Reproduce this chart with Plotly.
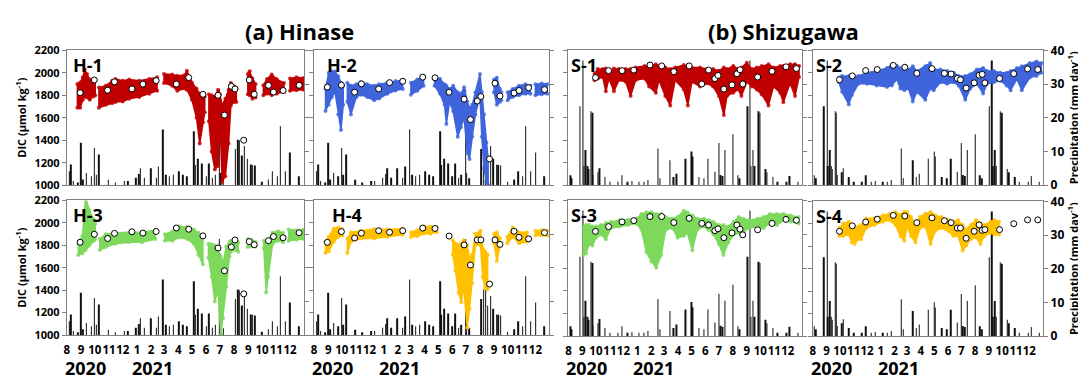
import plotly.graph_objects as go

# target picture is 1086x387; the page body adds an 8px margin, so the figure is drawn
# 8px smaller and every pixel position below is given in picture coordinates.
PIC_W, PIC_H, OFF = 1086, 387, 8
FW, FH = PIC_W - OFF, PIC_H - OFF
X_RANGE = ['2020-08-01', '2022-01-01']


def fx(px):
    return (px - OFF) / FW


def fy(py):
    return 1 - (py - OFF) / FH


# ---------------- axis labels ----------------
month_tick_dates = ['2020-08-01', '2020-09-01', '2020-10-01', '2020-11-01', '2020-12-01',
                    '2021-01-01', '2021-02-01', '2021-03-01', '2021-04-01', '2021-05-01',
                    '2021-06-01', '2021-07-01', '2021-08-01', '2021-09-01', '2021-10-01',
                    '2021-11-01', '2021-12-01']
month_tick_labels = ['8', '9', '10', '11', '12', '1', '2', '3', '4', '5', '6', '7', '8', '9',
                     '10', '11', '12']
year_labels = ['2020', '2021']

# ---------------- precipitation (mm/day) ----------------
hinase_rain_dates = ['2020-08-06', '2020-08-10', '2020-08-15', '2020-08-25', '2020-09-01',
                     '2020-09-05', '2020-09-13', '2020-09-23', '2020-09-30', '2020-10-04',
                     '2020-10-10', '2020-10-30', '2020-11-15', '2020-12-04', '2020-12-12',
                     '2020-12-30', '2021-01-05', '2021-01-09', '2021-01-17', '2021-01-31',
                     '2021-02-12', '2021-02-17', '2021-02-27', '2021-03-05', '2021-03-13',
                     '2021-03-21', '2021-04-02', '2021-04-11', '2021-04-20', '2021-05-05',
                     '2021-05-08', '2021-05-14', '2021-05-23', '2021-06-01', '2021-06-07',
                     '2021-06-15', '2021-06-21', '2021-06-30', '2021-07-03', '2021-07-08',
                     '2021-08-04', '2021-08-09', '2021-08-13', '2021-08-18', '2021-08-24',
                     '2021-08-30', '2021-09-07', '2021-09-10', '2021-09-15', '2021-10-01',
                     '2021-10-15', '2021-10-24', '2021-11-03', '2021-11-10', '2021-11-21',
                     '2021-12-01', '2021-12-20']
hinase_rain = [4.1, 6.1, 1.2, 0.8, 12.6,
               1.7, 3.6, 2.6, 11.0, 3.1,
               9.1, 1.6, 0.8, 1.2, 1.2,
               2.2, 3.3, 5.0, 2.2, 5.0,
               2.2, 5.5, 16.5, 3.1, 2.6,
               3.1, 4.1, 3.1, 2.6, 16.0,
               6.0, 7.8, 6.4, 2.6, 6.4,
               2.2, 3.1, 28.5, 3.6, 2.0,
               10.7, 13.5, 13.3, 8.8, 11.6,
               7.8, 6.1, 6.0, 5.8, 1.0,
               1.7, 4.1, 2.6, 17.5, 4.1,
               9.7, 2.6]

shizugawa_rain_dates = ['2020-08-05', '2020-08-08', '2020-08-26', '2020-09-02', '2020-09-04',
                        '2020-09-08', '2020-09-12', '2020-09-14', '2020-09-20', '2020-09-23',
                        '2020-09-25', '2020-10-05', '2020-10-09', '2020-10-21', '2020-11-01',
                        '2020-11-19', '2020-11-28', '2020-12-10', '2020-12-20', '2021-01-05',
                        '2021-01-15', '2021-01-25', '2021-02-16', '2021-02-20', '2021-03-14',
                        '2021-03-22', '2021-03-29', '2021-04-18', '2021-05-01', '2021-05-03',
                        '2021-05-18', '2021-05-29', '2021-06-07', '2021-06-22', '2021-07-01',
                        '2021-07-04', '2021-07-09', '2021-07-14', '2021-08-01', '2021-08-12',
                        '2021-08-16', '2021-09-02', '2021-09-08', '2021-09-10', '2021-09-14',
                        '2021-09-18', '2021-09-27', '2021-09-30', '2021-10-12', '2021-10-16',
                        '2021-10-29', '2021-11-08', '2021-11-28', '2021-12-05', '2021-12-23']
shizugawa_rain = [2.9, 2.0, 23.4, 37.0, 5.7,
                  10.4, 5.7, 4.8, 21.9, 21.5,
                  3.0, 3.8, 5.0, 2.4, 1.0,
                  1.0, 2.9, 1.0, 1.2, 1.0,
                  1.0, 1.5, 10.9, 2.0, 7.4,
                  2.4, 3.4, 7.8, 10.0, 8.5,
                  2.4, 2.0, 7.8, 4.0, 12.5,
                  3.0, 2.7, 10.4, 15.1, 2.9,
                  2.0, 23.4, 37.0, 5.7, 10.4,
                  5.7, 21.9, 21.5, 4.8, 3.8,
                  2.4, 1.0, 1.0, 2.7, 1.0]

# ---------------- discrete DIC samples (white circles) ----------------
h_sample_dates = ['2020-08-30', '2020-09-30', '2020-10-29', '2020-11-13', '2020-12-21',
                  '2021-01-14', '2021-02-12', '2021-03-28', '2021-04-24', '2021-05-25',
                  '2021-06-27', '2021-07-11', '2021-07-26', '2021-08-03', '2021-08-22',
                  '2021-09-03', '2021-09-14', '2021-10-15', '2021-10-26', '2021-11-16',
                  '2021-12-21']
h1_samples = [1823, 1937, 1846, 1920, 1857, 1900, 1931, 1900, 1958, 1809,
              1800, 1624, 1880, 1857, 1400, 1937, 1809, 1889, 1829, 1843, 1889]
h2_samples = [1874, 1891, 1828, 1902, 1857, 1913, 1925, 1962, 1956, 1828,
              1766, 1584, 1749, 1789, 1233, 1908, 1794, 1820, 1843, 1868, 1851]
h3_samples = [1827, 1898, 1861, 1906, 1920, 1909, 1923, 1954, 1943, 1884,
              1776, 1573, 1785, 1847, 1367, 1833, 1805, 1841, 1878, 1867, 1912]
h4_samples = [1826, 1922, 1865, 1908, 1930, 1916, 1930, 1953, 1950, 1882,
              1803, 1624, 1848, 1848, 1454, 1848, 1808, 1925, 1871, 1857, 1913]

s_sample_dates = ['2020-09-30', '2020-10-29', '2020-11-28', '2020-12-24', '2021-01-29',
                  '2021-02-24', '2021-03-23', '2021-04-26', '2021-05-24', '2021-06-08',
                  '2021-06-22', '2021-06-29', '2021-07-12', '2021-07-30', '2021-08-10',
                  '2021-08-17', '2021-08-23', '2021-09-25', '2021-10-27', '2021-11-27',
                  '2021-12-20']
s1_samples = [1958, 2020, 2020, 2025, 2070, 2062, 2011, 2062, 1901, 2025,
              1949, 1977, 1856, 1893, 1992, 2028, 1901, 1963, 2014, 2054, 2039]
s2_samples = [1939, 1973, 2021, 2030, 2067, 2050, 1996, 2038, 1996, 1990,
              1950, 1939, 1865, 1911, 1979, 1987, 1911, 1950, 1993, 2035, 2030]
s3_samples = [1926, 1968, 2010, 2021, 2057, 2057, 2004, 2041, 1996, 1982,
              1932, 1948, 1870, 1912, 1982, 1945, 1895, 1940, 1996, 2032, 2024]
s4_samples = [1933, 1982, 2016, 2041, 2075, 2069, 2010, 2053, 2027, 2010,
              1962, 1962, 1871, 1933, 1990, 1942, 1948, 1948, 2001, 2035, 2035]

# ---------------- continuous sensor DIC: upper / lower envelope (None = data gap) ----
h1_dates = ['2020-08-24', '2020-08-30', '2020-09-05', '2020-09-09', '2020-09-14', '2020-09-20',
            '2020-09-28', '2020-10-02', None,
            '2020-10-10', '2020-10-25', '2020-11-08', '2020-11-15', '2020-12-01', '2020-12-15',
            '2021-01-06', '2021-01-28', '2021-02-14', None,
            '2021-03-01', '2021-03-19', '2021-03-30', '2021-04-15', '2021-04-20', '2021-05-01',
            '2021-05-11', '2021-05-18', '2021-05-25', '2021-05-29', None,
            '2021-06-07', '2021-06-13', '2021-06-20', '2021-06-27', '2021-07-01', '2021-07-06',
            '2021-07-13', '2021-07-20', '2021-07-25', '2021-08-01', '2021-08-06', None,
            '2021-08-31', '2021-09-04', '2021-09-10', '2021-09-17', None,
            '2021-10-04', '2021-10-12', '2021-10-22', '2021-11-02', '2021-11-18', None,
            '2021-12-01', '2021-12-15', '2021-12-31']
h1_upper = [1900, 1915, 1960, 2030, 1990, 1940, 1940, 1930, None,
            1870, 1885, 1930, 1945, 1930, 1940, 1930, 1945, 1960, None,
            1990, 1985, 1975, 1980, 2020, 1915, 1860, 1815, 1800, 1790, None,
            1810, 1800, 1790, 1850, 1810, 1710, 1770, 1850, 1910, 1880, 1860, None,
            1990, 2015, 1950, 1900, None,
            1890, 1945, 1985, 1945, 1910, None,
            1950, 1960, 1955]
h1_lower = [1690, 1690, 1760, 1790, 1780, 1760, 1790, 1800, None,
            1690, 1715, 1730, 1740, 1745, 1770, 1785, 1815, 1840, None,
            1910, 1885, 1840, 1860, 1850, 1760, 1600, 1370, 1560, 1650, None,
            1570, 1300, 1140, 1170, 1600, 1030, 1080, 1370, 1710, 1740, 1740, None,
            1810, 1800, 1770, 1780, None,
            1800, 1815, 1800, 1815, 1830, None,
            1840, 1845, 1850]

h2_dates = ['2020-08-26', '2020-09-02', '2020-09-09', '2020-09-16', '2020-09-23', '2020-09-29',
            '2020-10-04', None,
            '2020-10-13', '2020-10-21', '2020-11-02', '2020-11-12', '2020-11-26', '2020-12-11',
            '2020-12-22', '2021-01-09', '2021-01-27', '2021-02-12', None,
            '2021-03-02', '2021-03-16', '2021-03-30', None,
            '2021-04-23', '2021-05-05', '2021-05-15', '2021-05-19', '2021-05-26', '2021-06-03',
            '2021-06-13', '2021-06-20', '2021-06-27', '2021-07-04', '2021-07-09', '2021-07-15',
            '2021-07-22', '2021-08-01', '2021-08-05', '2021-08-10', '2021-08-15', '2021-08-19', None,
            '2021-09-01', '2021-09-07', '2021-09-14', '2021-09-17', None,
            '2021-10-01', '2021-10-12', '2021-10-26', '2021-11-09', '2021-11-20', None,
            '2021-12-01', '2021-12-15', '2021-12-27']
h2_upper = [1860, 2000, 2013, 2013, 1970, 1913, 1885, None,
            1913, 1885, 1899, 1919, 1899, 1885, 1899, 1913, 1928, 1936, None,
            1913, 1940, 1970, None,
            1956, 1945, 1899, 1885, 1857, 1885, 1828, 1814, 1871, 1743, 1687, 1715,
            1828, 1990, 1830, 1630, 1380, 1230, None,
            1940, 1956, 1857, 1828, None,
            1828, 1857, 1885, 1899, 1885, None,
            1899, 1905, 1899]
h2_lower = [1660, 1715, 1786, 1828, 1630, 1490, 1715, None,
            1743, 1630, 1786, 1806, 1786, 1757, 1771, 1814, 1843, 1857, None,
            1806, 1840, 1885, None,
            1885, 1814, 1715, 1545, 1740, 1658, 1431, 1516, 1601, 1289, 1233, 1431,
            1630, 1800, 1430, 1150, 1030, 1000, None,
            1828, 1715, 1743, 1757, None,
            1757, 1786, 1800, 1814, 1814, None,
            1800, 1810, 1814]

h3_dates = ['2020-08-26', '2020-09-04', '2020-09-11', '2020-09-19', '2020-09-29', '2020-10-02', None,
            '2020-10-12', '2020-10-25', '2020-11-15', '2020-12-14', '2021-01-12', '2021-02-10', None,
            '2021-03-03', '2021-03-20', '2021-04-03', '2021-04-21', '2021-05-05', '2021-05-15',
            '2021-05-25', None,
            '2021-06-06', '2021-06-13', '2021-06-20', '2021-06-27', '2021-07-03', '2021-07-08',
            '2021-07-15', '2021-07-22', '2021-07-25', '2021-08-02', '2021-08-10', None,
            '2021-08-31', '2021-09-08', '2021-09-17', None,
            '2021-10-05', '2021-10-10', '2021-10-14', '2021-10-24', '2021-11-05', '2021-11-16', None,
            '2021-11-28', '2021-12-15', '2021-12-31']
h3_upper = [1813, 1884, 2230, 2110, 2030, 1990, None,
            1855, 1898, 1912, 1912, 1918, 1934, None,
            1898, 1926, 1968, 1962, 1940, 1912, 1884, None,
            1813, 1810, 1800, 1780, 1700, 1640, 1790, 1830, 1841, 1855, 1827, None,
            1855, 1850, 1830, None,
            1841, 1830, 1841, 1912, 1926, 1912, None,
            1940, 1935, 1940]
h3_lower = [1714, 1728, 1757, 1799, 1840, 1855, None,
            1757, 1785, 1813, 1827, 1827, 1855, None,
            1841, 1841, 1870, 1855, 1813, 1714, 1630, None,
            1690, 1520, 1300, 1400, 1000, 1150, 1430, 1700, 1743, 1757, 1743, None,
            1785, 1790, 1790, None,
            1771, 1380, 1517, 1813, 1841, 1827, None,
            1841, 1850, 1855]

h4_dates = ['2020-08-26', '2020-09-02', '2020-09-13', '2020-09-23', '2020-10-02', None,
            '2020-10-13', '2020-10-21', '2020-11-12', '2020-12-11', '2021-01-09', '2021-02-12', None,
            '2021-03-02', '2021-03-16', '2021-03-30', '2021-04-14', '2021-04-28', None,
            '2021-06-02', '2021-06-08', '2021-06-15', '2021-06-21', '2021-06-26', '2021-07-04',
            '2021-07-09', '2021-07-15', '2021-07-22', '2021-08-02', '2021-08-07', '2021-08-12',
            '2021-08-18', None,
            '2021-09-01', '2021-09-07', '2021-09-14', None,
            '2021-09-30', '2021-10-12', '2021-10-26', '2021-11-13', None,
            '2021-12-01', '2021-12-15', '2021-12-27']
h4_upper = [1831, 1874, 1950, 1959, 1945, None,
            1860, 1916, 1930, 1945, 1940, 1950, None,
            1916, 1935, 1967, 1967, 1959, None,
            1845, 1817, 1803, 1817, 1845, 1803, 1689, 1718, 1902, 1930, 1774, 1746, 1718, None,
            1902, 1916, 1860, None,
            1874, 1959, 1916, 1916, None,
            1930, 1935, 1930]
h4_lower = [1732, 1746, 1831, 1874, 1888, None,
            1732, 1831, 1860, 1860, 1874, 1894, None,
            1874, 1880, 1902, 1902, 1916, None,
            1718, 1576, 1377, 1292, 1434, 1065, 1235, 1462, 1803, 1803, 1519, 1420, 1406, None,
            1817, 1661, 1789, None,
            1817, 1874, 1817, 1831, None,
            1888, 1890, 1888]

s1_dates = ['2020-09-28', '2020-10-05', '2020-10-16', '2020-10-23', '2020-10-30', '2020-11-10',
            '2020-11-21', '2020-12-06', '2020-12-17', '2020-12-28', '2021-01-17', '2021-01-27',
            '2021-02-11', '2021-02-18', '2021-03-04', '2021-03-15', '2021-03-26', '2021-04-14',
            '2021-04-23', '2021-05-02', '2021-05-20', '2021-06-04', '2021-06-18', '2021-07-01',
            '2021-07-12', '2021-07-19', '2021-08-02', '2021-08-13', '2021-08-20', '2021-09-01',
            '2021-09-12', '2021-09-23', '2021-10-04', '2021-10-19', '2021-10-30', '2021-11-14',
            '2021-11-21', '2021-12-06', '2021-12-17', '2021-12-26']
s1_upper = [1992, 2034, 2034, 2039, 2020, 2039, 2034, 2034, 2034, 2048, 2062, 2062,
            2076, 2062, 2048, 2034, 2048, 2070, 2062, 2048, 2048, 2034, 2034, 2020,
            2048, 2034, 2062, 2034, 2048, 2090, 2034, 2048, 2062, 2076, 2048, 2062,
            2062, 2076, 2076, 2062]
s1_lower = [1935, 1949, 1963, 1837, 1949, 1837, 1935, 1921, 1794, 1935, 1949, 1879,
            1823, 1935, 1794, 1710, 1935, 1851, 1710, 1921, 1879, 1907, 1879, 1794,
            1625, 1794, 1823, 1851, 1794, 1921, 1879, 1851, 1808, 1710, 1879, 1823,
            1738, 1907, 1794, 1963]

s2_dates = ['2020-09-29', '2020-10-06', '2020-10-21', '2020-10-28', '2020-11-12', '2020-12-01',
            '2020-12-23', '2021-01-15', '2021-01-26', '2021-02-06', '2021-02-14', '2021-02-23',
            '2021-03-04', '2021-03-14', '2021-03-23', '2021-04-11', '2021-04-22', '2021-04-30',
            '2021-05-15', '2021-05-30', '2021-06-14', '2021-06-25', '2021-07-10', '2021-07-21',
            '2021-08-05', '2021-08-19', '2021-08-28', '2021-09-12', '2021-09-27', '2021-10-11',
            '2021-10-20', '2021-11-03', '2021-11-14', '2021-12-02', '2021-12-17', '2021-12-28']
s2_upper = [1959, 1973, 1973, 1973, 1973, 2001, 2016, 2044, 2072, 2064, 2044, 2016,
            2030, 2058, 2016, 2058, 2087, 2030, 2030, 2016, 2001, 1973, 1973, 1987,
            2030, 2044, 2016, 2016, 2001, 2001, 2016, 2044, 2058, 2087, 2101, 2087]
s2_lower = [1916, 1831, 1718, 1803, 1902, 1902, 1888, 1874, 1888, 1945, 1860, 1845,
            1860, 1746, 1831, 1760, 1860, 1845, 1916, 1902, 1916, 1888, 1760, 1860,
            1902, 1817, 1902, 1916, 1930, 1888, 1845, 1945, 1845, 1959, 1973, 2001]

s3_dates = ['2020-09-03', '2020-09-09', '2020-09-16', '2020-09-23', '2020-10-01', '2020-10-12',
            '2020-10-23', '2020-11-03', '2020-11-22', '2020-12-11', '2020-12-30', '2021-01-10',
            '2021-01-21', '2021-02-01', '2021-02-12', '2021-02-23', '2021-03-05', '2021-03-20',
            '2021-03-31', '2021-04-14', '2021-04-22', '2021-05-03', '2021-05-14', '2021-05-29',
            '2021-06-08', '2021-06-19', '2021-07-01', '2021-07-11', '2021-07-22', '2021-08-03',
            '2021-08-14', '2021-08-25', '2021-09-05', '2021-09-24', '2021-10-08', '2021-10-22',
            '2021-11-07', '2021-11-22', '2021-12-07', '2021-12-25']
s3_upper = [1968, 1982, 1982, 1968, 1968, 1982, 2001, 2010, 2024, 2029, 2038, 2080,
            2094, 2094, 2080, 2080, 2052, 2038, 2052, 2108, 2094, 2066, 2038, 2038,
            2024, 2010, 1982, 1982, 1968, 2010, 2052, 2038, 2024, 2038, 2052, 2080,
            2080, 2080, 2066, 2052]
s3_lower = [1716, 1730, 1814, 1800, 1870, 1898, 1856, 1954, 1968, 1982, 1996, 1940,
            1744, 1660, 1604, 1716, 1940, 1954, 1870, 1884, 1912, 1758, 1940, 1968,
            1940, 1898, 1814, 1716, 1828, 1898, 1912, 1926, 1954, 1968, 1954, 1996,
            1982, 2024, 2010, 1996]

s4_dates = ['2020-09-30', '2020-10-09', '2020-10-21', '2020-10-28', '2020-11-03', '2020-11-11',
            '2020-11-18', '2020-11-29', '2020-12-18', '2021-01-06', '2021-01-20', '2021-02-03',
            '2021-02-14', '2021-02-23', '2021-03-01', '2021-03-10', '2021-03-20', '2021-03-30',
            '2021-04-11', '2021-04-23', '2021-05-03', '2021-05-17', '2021-06-03', '2021-06-13',
            '2021-06-24', '2021-07-04', '2021-07-12', '2021-07-22', '2021-08-03', '2021-08-13',
            '2021-08-22', '2021-09-05', '2021-09-14', '2021-09-24']
s4_upper = [1962, 2004, 2018, 1990, 1962, 1976, 1990, 2047, 2052, 2075, 2089, 2104,
            2081, 2104, 2104, 2061, 1990, 2061, 2089, 2104, 2075, 2061, 2033, 2018,
            2033, 1990, 1948, 1990, 2033, 2004, 1990, 2018, 2033, 2018]
s4_lower = [1891, 1891, 1905, 1834, 1820, 1862, 1862, 1962, 1990, 2018, 2033, 1990,
            1891, 1848, 1976, 1891, 1834, 1962, 1976, 1820, 1933, 1962, 1933, 1891,
            1891, 1760, 1806, 1862, 1877, 1820, 1891, 1919, 1905, 1905]

# ---------------- styling ----------------
FONT = 'Open Sans'
FRAME = '#808080'
RED, BLUE, GREEN, GOLD = '#C00000', '#3F64DC', '#7DD85C', '#FFC000'
DAY_MS = 86400000

panels = [
    dict(label='H-1', box=(64, 302, 43, 184), dx=4, color=RED,
         band=(h1_dates, h1_upper, h1_lower), samples=(h_sample_dates, h1_samples),
         rain=(hinase_rain_dates, hinase_rain), left=True, right=False, bottom=False),
    dict(label='H-2', box=(312, 548, 43, 184), dx=11, color=BLUE,
         band=(h2_dates, h2_upper, h2_lower), samples=(h_sample_dates, h2_samples),
         rain=(hinase_rain_dates, hinase_rain), left=False, right=False, bottom=False),
    dict(label='S-1', box=(567, 801, 43, 184), dx=1, color=RED,
         band=(s1_dates, s1_upper, s1_lower), samples=(s_sample_dates, s1_samples),
         rain=(shizugawa_rain_dates, shizugawa_rain), left=False, right=False, bottom=False),
    dict(label='S-2', box=(812, 1043, 43, 184), dx=1, color=BLUE,
         band=(s2_dates, s2_upper, s2_lower), samples=(s_sample_dates, s2_samples),
         rain=(shizugawa_rain_dates, shizugawa_rain), left=False, right=True, bottom=False),
    dict(label='H-3', box=(64, 302, 200, 341), dx=4, color=GREEN,
         band=(h3_dates, h3_upper, h3_lower), samples=(h_sample_dates, h3_samples),
         rain=(hinase_rain_dates, hinase_rain), left=True, right=False, bottom=True),
    dict(label='H-4', box=(312, 548, 200, 341), dx=16, color=GOLD,
         band=(h4_dates, h4_upper, h4_lower), samples=(h_sample_dates, h4_samples),
         rain=(hinase_rain_dates, hinase_rain), left=False, right=False, bottom=True),
    dict(label='S-3', box=(567, 801, 200, 342), dx=1, color=GREEN,
         band=(s3_dates, s3_upper, s3_lower), samples=(s_sample_dates, s3_samples),
         rain=(shizugawa_rain_dates, shizugawa_rain), left=False, right=False, bottom=True),
    dict(label='S-4', box=(812, 1043, 201, 342), dx=1, color=GOLD,
         band=(s4_dates, s4_upper, s4_lower), samples=(s_sample_dates, s4_samples),
         rain=(shizugawa_rain_dates, shizugawa_rain), left=False, right=True, bottom=True),
]


def band_polygon(dates, upper, lower):
    xs, ys, seg = [], [], []

    def flush():
        if seg:
            xs.extend([s[0] for s in seg] + [s[0] for s in reversed(seg)] + [seg[0][0], None])
            ys.extend([s[1] for s in seg] + [s[2] for s in reversed(seg)] + [seg[0][1], None])

    for d, u, l in zip(dates, upper, lower):
        if d is None:
            flush()
            seg = []
        else:
            seg.append((d, u, l))
    flush()
    return xs, ys


def BOLD(s):
    return dict(family=FONT, size=s, weight='bold', color='black')


fig = go.Figure()
layout = dict(width=FW, height=FH, margin=dict(l=0, r=0, t=0, b=0),
              paper_bgcolor='white', plot_bgcolor='white', showlegend=False,
              font=dict(family=FONT, color='black'))
annotations = []

for i, p in enumerate(panels, 1):
    x0, x1, y0, y1 = p['box']
    xa, yr, yd = f'x{i}', f'y{i}', f'y{i + 8}'
    rd, rv = p['rain']
    fig.add_trace(go.Bar(x=rd, y=rv, xaxis=xa, yaxis=yr, width=1.0 * DAY_MS,
                         marker=dict(color='#111111', line=dict(width=0))))
    dts, up, lo = p['band']
    bx, by = band_polygon(dts, up, lo)
    fig.add_trace(go.Scatter(x=bx, y=by, xaxis=xa, yaxis=yd, mode='lines', fill='toself',
                             fillcolor=p['color'], line=dict(color=p['color'], width=1.5),
                             hoverinfo='skip'))
    # scattered sensor dots along the envelope edges
    fig.add_trace(go.Scatter(x=dts + dts, y=up + lo, xaxis=xa, yaxis=yd, mode='markers',
                             marker=dict(size=4, color=p['color'], opacity=0.8),
                             hoverinfo='skip'))
    sd, sv = p['samples']
    fig.add_trace(go.Scatter(x=sd, y=sv, xaxis=xa, yaxis=yd, mode='markers',
                             marker=dict(size=6, color='white',
                                         line=dict(color='black', width=1))))

    layout[f'xaxis{i}'] = dict(
        domain=[fx(x0), fx(x1)], anchor=yr, type='date', range=X_RANGE,
        showline=True, mirror=True, linecolor=FRAME, linewidth=1, ticks='',
        showgrid=False, zeroline=False, tickmode='array', tickvals=month_tick_dates,
        ticktext=month_tick_labels, tickangle=0, showticklabels=p['bottom'],
        ticklabelstandoff=4, tickfont=BOLD(11.5))
    yprec = dict(
        domain=[fy(y1), fy(y0)], anchor=xa, side='right', range=[0, 40],
        tickmode='linear', tick0=0, dtick=10, ticks='outside', ticklen=4, tickcolor=FRAME,
        showline=True, linecolor=FRAME, linewidth=1, showgrid=False, zeroline=False,
        showticklabels=p['right'], tickfont=BOLD(12))
    if p['right']:
        yprec['title'] = dict(text='Precipitation (mm day<sup>-1</sup>)', font=BOLD(11),
                              standoff=6)
    layout[f'yaxis{i}'] = yprec
    layout[f'yaxis{i + 8}'] = dict(
        overlaying=yr, anchor=xa, side='left', range=[1000, 2200],
        tickmode='linear', tick0=1000, dtick=200, ticks='outside', ticklen=4, tickcolor=FRAME,
        showline=True, linecolor=FRAME, linewidth=1, showgrid=False, zeroline=False,
        showticklabels=p['left'], tickfont=BOLD(11))

    annotations.append(dict(text=p['label'], xref='paper', yref='paper',
                            x=fx(x0 + p['dx']), y=fy(y0 + 1),
                            xanchor='left', yanchor='top', showarrow=False, font=BOLD(18)))
    if p['left']:
        annotations.append(dict(text='DIC (μmol kg<sup>-1</sup>)', xref='paper', yref='paper',
                                x=fx(18), y=fy((y0 + y1) / 2), textangle=-90,
                                xanchor='center', yanchor='middle',
                                showarrow=False, font=BOLD(11)))
    if p['bottom']:
        for yl, off in zip(year_labels, (-4, 63)):
            annotations.append(dict(text=yl, xref='paper', yref='paper',
                                    x=fx(x0 + off), y=fy(376),
                                    xanchor='left', yanchor='middle', showarrow=False,
                                    font=BOLD(18)))

annotations.append(dict(text='(a) Hinase', xref='paper', yref='paper', x=fx(297), y=fy(23),
                        xanchor='center', yanchor='middle', showarrow=False, font=BOLD(22)))
annotations.append(dict(text='(b) Shizugawa', xref='paper', yref='paper', x=fx(783),
                        y=fy(23), xanchor='center', yanchor='middle', showarrow=False,
                        font=BOLD(22)))

layout['annotations'] = annotations
fig.update_layout(**layout)
fig.write_html('out.html')
